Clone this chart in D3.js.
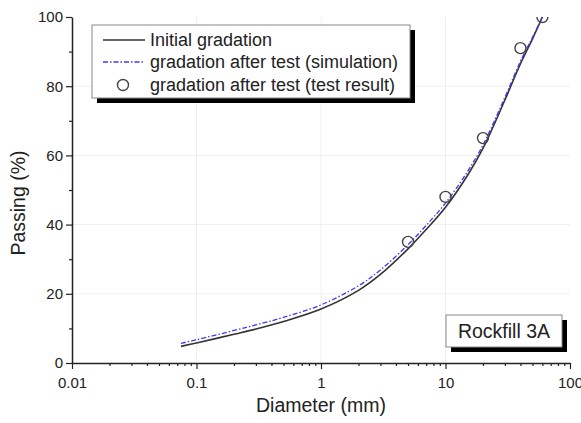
<!DOCTYPE html>
<html>
<head>
<meta charset="utf-8">
<script src="https://cdn.jsdelivr.net/npm/d3@7"></script>
<style>
  body { margin: 0; background: #fff; }
  svg { display: block; font-family: "Liberation Sans", Arial, sans-serif; }
</style>
</head>
<body>
<svg width="581" height="423"></svg>
<script>
const diameters = [0.075, 0.1, 0.2, 0.3, 0.5, 1, 2, 3, 5, 7, 10, 15, 20, 30, 40, 50, 60];
// Passing (%) for the initial gradation
const initialPassing = [4.8, 5.8, 8.3, 9.8, 12.0, 15.6, 21.0, 25.6, 33.0, 38.6, 45.0, 54.2, 62.0, 76.0, 86.5, 93.7, 100];
// Passing (%) for the simulated gradation after test
const simPassing = [5.7, 6.7, 9.4, 11.0, 13.2, 16.8, 22.3, 26.9, 34.2, 39.8, 46.2, 55.3, 63.0, 76.8, 87.2, 94.1, 100];
// Test results
const testDiameters = [5, 10, 20, 40, 60];
const testPassing = [35, 48, 65, 91, 100];

const xTicks = [0.01, 0.1, 1, 10, 100];
const yTicks = [0, 20, 40, 60, 80, 100];

const legendLabels = [
  "Initial gradation",
  "gradation after test (simulation)",
  "gradation after test (test result)"
];

// plot area
const plotL = 72, plotR = 570, plotT = 17, plotB = 363;

const svg = d3.select("svg");

const x = d3.scaleLog().domain([0.01, 100]).range([plotL, plotR]);
const y = d3.scaleLinear().domain([0, 100]).range([plotB, plotT]);

svg.append("defs").append("clipPath").attr("id", "plot")
  .append("rect")
  .attr("x", plotL).attr("y", plotT)
  .attr("width", plotR - plotL).attr("height", plotB - plotT);

// grid
svg.append("g").selectAll("line")
  .data(xTicks.slice(1, -1))
  .enter().append("line")
  .attr("x1", d => x(d)).attr("x2", d => x(d))
  .attr("y1", plotT).attr("y2", plotB)
  .attr("stroke", "#efefef").attr("stroke-width", 1);

svg.append("g").selectAll("line")
  .data(yTicks.slice(1, -1))
  .enter().append("line")
  .attr("x1", plotL).attr("x2", plotR)
  .attr("y1", d => y(d)).attr("y2", d => y(d))
  .attr("stroke", "#efefef").attr("stroke-width", 1);

// minor ticks
const xMinor = [];
for (let e = -2; e < 2; e++) {
  for (let k = 2; k <= 9; k++) xMinor.push(k * Math.pow(10, e));
}
const yMinor = [10, 30, 50, 70, 90];

// X axis
const xAxis = svg.append("g")
  .attr("transform", `translate(0,${plotB})`)
  .call(d3.axisBottom(x).tickValues(xTicks).tickFormat(d => String(d)).tickSize(6).tickSizeOuter(0));
svg.append("g")
  .attr("transform", `translate(0,${plotB})`)
  .call(d3.axisBottom(x).tickValues(xMinor).tickFormat("").tickSize(3).tickSizeOuter(0))
  .call(g => g.select(".domain").remove());

// Y axis
const yAxis = svg.append("g")
  .attr("transform", `translate(${plotL},0)`)
  .call(d3.axisLeft(y).tickValues(yTicks).tickSize(6).tickSizeOuter(0));
svg.append("g")
  .attr("transform", `translate(${plotL},0)`)
  .call(d3.axisLeft(y).tickValues(yMinor).tickFormat("").tickSize(3).tickSizeOuter(0))
  .call(g => g.select(".domain").remove());

svg.selectAll(".domain").attr("stroke", "#222").attr("stroke-width", 1.5);
svg.selectAll(".tick line").attr("stroke", "#222").attr("stroke-width", 1.2);
xAxis.selectAll("text")
  .attr("font-size", 15).attr("fill", "#222")
  .attr("font-family", "Liberation Sans, Arial, sans-serif")
  .attr("dy", "1.05em");
yAxis.selectAll("text")
  .attr("font-size", 15).attr("fill", "#222")
  .attr("font-family", "Liberation Sans, Arial, sans-serif")
  .attr("x", -9);

// axis titles
svg.append("text")
  .attr("x", (plotL + plotR) / 2).attr("y", 412)
  .attr("text-anchor", "middle")
  .attr("font-size", 19.5).attr("fill", "#222")
  .text("Diameter (mm)");

svg.append("text")
  .attr("transform", "translate(25,203) rotate(-90)")
  .attr("text-anchor", "middle")
  .attr("font-size", 19.5).attr("fill", "#222")
  .text("Passing (%)");

// curves
const initialData = diameters.map((d, i) => ({ d: d, p: initialPassing[i] }));
const simData = diameters.map((d, i) => ({ d: d, p: simPassing[i] }));
const testData = testDiameters.map((d, i) => ({ d: d, p: testPassing[i] }));

const line = d3.line()
  .x(d => x(d.d))
  .y(d => y(d.p))
  .curve(d3.curveCatmullRom.alpha(0.5));

const plot = svg.append("g").attr("clip-path", "url(#plot)");

plot.append("path")
  .datum(initialData)
  .attr("d", line)
  .attr("fill", "none")
  .attr("stroke", "#333")
  .attr("stroke-width", 1.6);

plot.append("path")
  .datum(simData)
  .attr("d", line)
  .attr("fill", "none")
  .attr("stroke", "#3b3bf0")
  .attr("stroke-width", 1.3)
  .attr("stroke-dasharray", "5,2,1.5,2");

plot.selectAll(".pt")
  .data(testData)
  .enter().append("circle")
  .attr("class", "pt")
  .attr("cx", d => x(d.d))
  .attr("cy", d => y(d.p))
  .attr("r", 5.5)
  .attr("fill", "none")
  .attr("stroke", "#444")
  .attr("stroke-width", 1.4);

// legend
const lg = svg.append("g");
lg.append("rect")
  .attr("x", 97).attr("y", 30).attr("width", 318).attr("height", 73)
  .attr("fill", "#000");
lg.append("rect")
  .attr("x", 92).attr("y", 25).attr("width", 318).attr("height", 73)
  .attr("fill", "#fff").attr("stroke", "#888").attr("stroke-width", 1);

const rowY = [40, 62, 85];
lg.append("line")
  .attr("x1", 103).attr("x2", 145).attr("y1", rowY[0]).attr("y2", rowY[0])
  .attr("stroke", "#333").attr("stroke-width", 1.4);
lg.append("line")
  .attr("x1", 103).attr("x2", 145).attr("y1", rowY[1]).attr("y2", rowY[1])
  .attr("stroke", "#3b3bf0").attr("stroke-width", 1.3)
  .attr("stroke-dasharray", "5,2,1.5,2");
lg.append("circle")
  .attr("cx", 123).attr("cy", rowY[2]).attr("r", 5.5)
  .attr("fill", "none").attr("stroke", "#444").attr("stroke-width", 1.4);

lg.selectAll(".lt")
  .data(legendLabels)
  .enter().append("text")
  .attr("class", "lt")
  .attr("x", 150)
  .attr("y", (d, i) => rowY[i])
  .attr("dy", "0.35em")
  .attr("font-size", 18).attr("fill", "#222")
  .text(d => d);

// label box
const tag = svg.append("g");
tag.append("rect")
  .attr("x", 451).attr("y", 320).attr("width", 116).attr("height", 32)
  .attr("fill", "#000");
tag.append("rect")
  .attr("x", 446).attr("y", 315).attr("width", 116).attr("height", 32)
  .attr("fill", "#fff").attr("stroke", "#888").attr("stroke-width", 1);
tag.append("text")
  .attr("x", 504).attr("y", 331)
  .attr("dy", "0.35em")
  .attr("text-anchor", "middle")
  .attr("font-size", 19.5).attr("fill", "#222")
  .text("Rockfill 3A");
</script>
</body>
</html>
